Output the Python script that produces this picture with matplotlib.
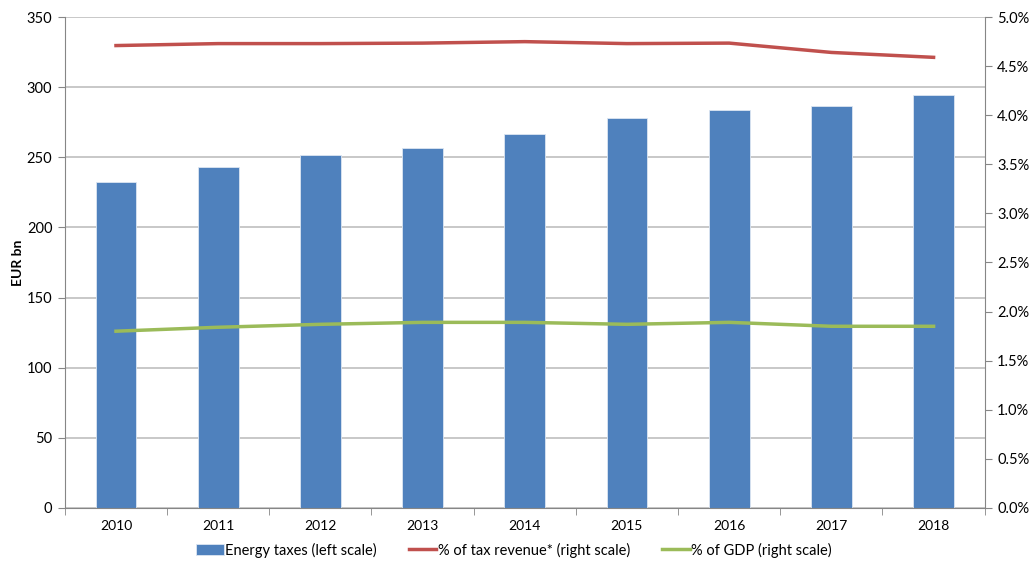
import numpy as np
import matplotlib.pyplot as plt
from matplotlib.ticker import FuncFormatter, MultipleLocator

plt.rcParams['font.family'] = ['Lato', 'DejaVu Sans']

years = ['2010', '2011', '2012', '2013', '2014', '2015', '2016', '2017', '2018']
energy_taxes = [232.5, 243, 251.5, 257, 266.5, 278, 283.5, 286.5, 294.5]
pct_tax_revenue = [4.71, 4.73, 4.73, 4.735, 4.75, 4.73, 4.735, 4.64, 4.59]
pct_gdp = [1.80, 1.84, 1.87, 1.89, 1.89, 1.87, 1.89, 1.85, 1.85]

blue = '#4F81BD'
red = '#C0504D'
green = '#9BBB59'
grid_col = '#BFBFBF'
axis_col = '#868686'

fig = plt.figure(figsize=(10.3, 5.7), dpi=100)
ax = fig.add_axes([0.063, 0.109, 0.893, 0.861])
x = np.arange(len(years))

bars = ax.bar(x, energy_taxes, width=0.4, color=blue, edgecolor='#DCE6F2', linewidth=0.6,
              zorder=2, label='Energy taxes (left scale)')
ax.set_ylim(0, 350)
ax.set_xlim(-0.5, len(years) - 0.5)
ax.yaxis.set_major_locator(MultipleLocator(50))
ax.grid(axis='y', color=grid_col, linewidth=1.2, zorder=0)
ax.set_axisbelow(True)
ax.set_ylabel('EUR bn', fontsize=10, fontweight='bold', labelpad=2)

ax.set_xticks(x)
ax.set_xticklabels(years)
ax.set_xticks(np.arange(-0.5, len(years)), minor=True)
ax.tick_params(axis='x', which='major', length=0, pad=9, labelsize=10)
ax.tick_params(axis='x', which='minor', length=5, color=axis_col, direction='out')
ax.tick_params(axis='y', length=5, color=axis_col, labelsize=10.5, pad=4)

for s in ['top', 'right']:
    ax.spines[s].set_visible(False)
ax.spines['left'].set_color(axis_col)
ax.spines['bottom'].set_color(axis_col)

ax2 = ax.twinx()
l1, = ax2.plot(x, pct_tax_revenue, color=red, linewidth=2.5, label='% of tax revenue* (right scale)')
l2, = ax2.plot(x, pct_gdp, color=green, linewidth=2.5, label='% of GDP (right scale)')
ax2.set_ylim(0, 5)
ax2.yaxis.set_major_locator(MultipleLocator(0.5))
ax2.yaxis.set_major_formatter(FuncFormatter(lambda v, p: f'{v:.1f}%'))
ax2.tick_params(axis='y', length=5, color=axis_col, labelsize=10.5, pad=4)
for s in ['top', 'left', 'bottom']:
    ax2.spines[s].set_visible(False)
ax2.spines['right'].set_color(axis_col)

fig.legend(handles=[bars, l1, l2], loc='center', bbox_to_anchor=(0.499, 0.035), ncol=3,
           frameon=False, fontsize=10.5, handlelength=1.9, handletextpad=0.1, columnspacing=2.2)

fig.savefig('out.png', dpi=100)
